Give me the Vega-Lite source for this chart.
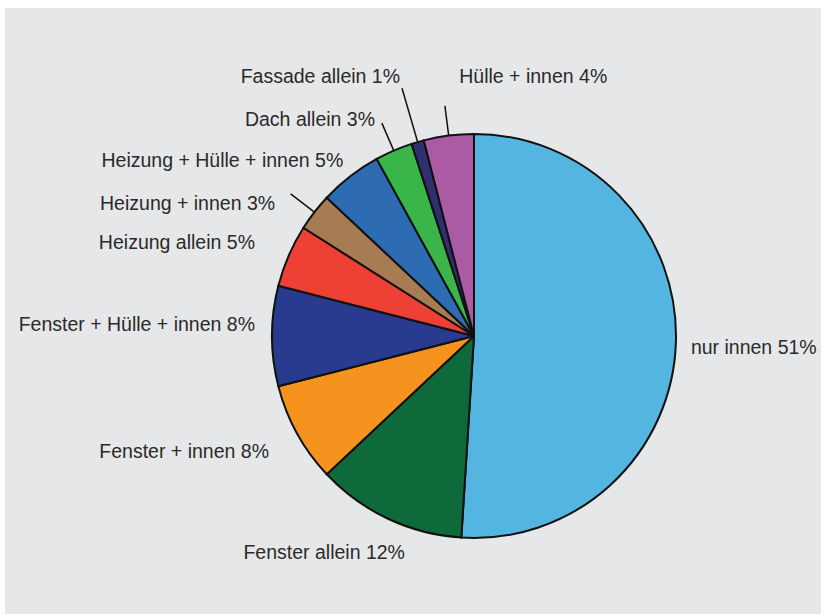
{
  "$schema": "https://vega.github.io/schema/vega-lite/v6.json",
  "width": 821,
  "height": 614,
  "autosize": {"type": "fit", "contains": "padding"},
  "padding": {"left": 5, "top": 8, "right": 0, "bottom": 0},
  "background": "#ffffff",
  "view": {"fill": "#e6e7e8", "stroke": null},
  "data": {
    "values": [
      {"nr": 1, "kat": "nur innen", "anteil": 51, "label": "nur innen 51%"},
      {"nr": 2, "kat": "Fenster allein", "anteil": 12, "label": "Fenster allein 12%"},
      {"nr": 3, "kat": "Fenster + innen", "anteil": 8, "label": "Fenster + innen 8%"},
      {"nr": 4, "kat": "Fenster + Hülle + innen", "anteil": 8, "label": "Fenster + Hülle + innen 8%"},
      {"nr": 5, "kat": "Heizung allein", "anteil": 5, "label": "Heizung allein 5%"},
      {"nr": 6, "kat": "Heizung + innen", "anteil": 3, "label": "Heizung + innen 3%"},
      {"nr": 7, "kat": "Heizung + Hülle + innen", "anteil": 5, "label": "Heizung + Hülle + innen 5%"},
      {"nr": 8, "kat": "Dach allein", "anteil": 3, "label": "Dach allein 3%"},
      {"nr": 9, "kat": "Fassade allein", "anteil": 1, "label": "Fassade allein 1%"},
      {"nr": 10, "kat": "Hülle + innen", "anteil": 4, "label": "Hülle + innen 4%"}
    ]
  },
  "encoding": {
    "theta": {"field": "anteil", "type": "quantitative", "stack": true},
    "order": {"field": "nr", "type": "quantitative"}
  },
  "layer": [
    {
      "mark": {"type": "arc", "radius": 202, "x": 469, "y": 328, "stroke": "#111111", "strokeWidth": 2},
      "encoding": {
        "color": {
          "field": "kat", "type": "nominal", "legend": null,
          "scale": {
            "domain": ["nur innen", "Fenster allein", "Fenster + innen", "Fenster + Hülle + innen", "Heizung allein", "Heizung + innen", "Heizung + Hülle + innen", "Dach allein", "Fassade allein", "Hülle + innen"],
            "range": ["#54b6e0", "#0f6a3b", "#f6921e", "#283b8f", "#ee4136", "#a87c52", "#2d6bb3", "#3ab54a", "#302f72", "#ab5ba4"]
          }
        }
      }
    },
    {
      "mark": {"type": "arc", "outerRadius": 232, "innerRadius": 202, "x": 469, "y": 328, "padAngle": 3.14, "fillOpacity": 0, "stroke": "#111111", "strokeWidth": 1.5},
      "encoding": {
        "strokeOpacity": {"condition": {"test": "indexof(['Heizung + innen', 'Dach allein', 'Hülle + innen'], datum.kat) >= 0", "value": 1}, "value": 0}
      }
    },
    {
      "mark": {"type": "arc", "outerRadius": 258, "innerRadius": 202, "x": 469, "y": 328, "padAngle": 3.14, "fillOpacity": 0, "stroke": "#111111", "strokeWidth": 1.5},
      "encoding": {
        "strokeOpacity": {"condition": {"test": "datum.kat === 'Fassade allein'", "value": 1}, "value": 0}
      }
    },
    {
      "mark": {"type": "text", "radius": 215, "x": 469, "y": 328, "align": "left", "baseline": "middle", "font": "Liberation Sans", "fontSize": 19.5, "color": "#2a2a2a", "dx": 2, "dy": 5},
      "encoding": {"text": {"condition": {"test": "datum.kat === 'nur innen'", "field": "label", "type": "nominal"}, "value": ""}}
    },
    {
      "mark": {"type": "text", "radius": 215, "x": 469, "y": 328, "align": "right", "baseline": "middle", "font": "Liberation Sans", "fontSize": 19.5, "color": "#2a2a2a", "dx": 22.5, "dy": 22.5},
      "encoding": {"text": {"condition": {"test": "datum.kat === 'Fenster allein'", "field": "label", "type": "nominal"}, "value": ""}}
    },
    {
      "mark": {"type": "text", "radius": 215, "x": 469, "y": 328, "align": "right", "baseline": "middle", "font": "Liberation Sans", "fontSize": 19.5, "color": "#2a2a2a", "dx": -16.6, "dy": 12.4},
      "encoding": {"text": {"condition": {"test": "datum.kat === 'Fenster + innen'", "field": "label", "type": "nominal"}, "value": ""}}
    },
    {
      "mark": {"type": "text", "radius": 215, "x": 469, "y": 328, "align": "right", "baseline": "middle", "font": "Liberation Sans", "fontSize": 19.5, "color": "#2a2a2a", "dx": -4, "dy": -11},
      "encoding": {"text": {"condition": {"test": "datum.kat === 'Fenster + Hülle + innen'", "field": "label", "type": "nominal"}, "value": ""}}
    },
    {
      "mark": {"type": "text", "radius": 215, "x": 469, "y": 328, "align": "right", "baseline": "middle", "font": "Liberation Sans", "fontSize": 19.5, "color": "#2a2a2a", "dx": -21.7, "dy": -7.6},
      "encoding": {"text": {"condition": {"test": "datum.kat === 'Heizung allein'", "field": "label", "type": "nominal"}, "value": ""}}
    },
    {
      "mark": {"type": "text", "radius": 215, "x": 469, "y": 328, "align": "right", "baseline": "middle", "font": "Liberation Sans", "fontSize": 19.5, "color": "#2a2a2a", "dx": -29, "dy": 0},
      "encoding": {"text": {"condition": {"test": "datum.kat === 'Heizung + innen'", "field": "label", "type": "nominal"}, "value": ""}}
    },
    {
      "mark": {"type": "text", "radius": 215, "x": 469, "y": 328, "align": "right", "baseline": "middle", "font": "Liberation Sans", "fontSize": 19.5, "color": "#2a2a2a", "dx": 1, "dy": -5},
      "encoding": {"text": {"condition": {"test": "datum.kat === 'Heizung + Hülle + innen'", "field": "label", "type": "nominal"}, "value": ""}}
    },
    {
      "mark": {"type": "text", "radius": 215, "x": 469, "y": 328, "align": "right", "baseline": "middle", "font": "Liberation Sans", "fontSize": 19.5, "color": "#2a2a2a", "dx": -13.6, "dy": -19},
      "encoding": {"text": {"condition": {"test": "datum.kat === 'Dach allein'", "field": "label", "type": "nominal"}, "value": ""}}
    },
    {
      "mark": {"type": "text", "radius": 215, "x": 469, "y": 328, "align": "right", "baseline": "middle", "font": "Liberation Sans", "fontSize": 19.5, "color": "#2a2a2a", "dx": -14, "dy": -52.5},
      "encoding": {"text": {"condition": {"test": "datum.kat === 'Fassade allein'", "field": "label", "type": "nominal"}, "value": ""}}
    },
    {
      "mark": {"type": "text", "radius": 215, "x": 469, "y": 328, "align": "left", "baseline": "middle", "font": "Liberation Sans", "fontSize": 19.5, "color": "#2a2a2a", "dx": 12.2, "dy": -45.7},
      "encoding": {"text": {"condition": {"test": "datum.kat === 'Hülle + innen'", "field": "label", "type": "nominal"}, "value": ""}}
    }
  ]
}
